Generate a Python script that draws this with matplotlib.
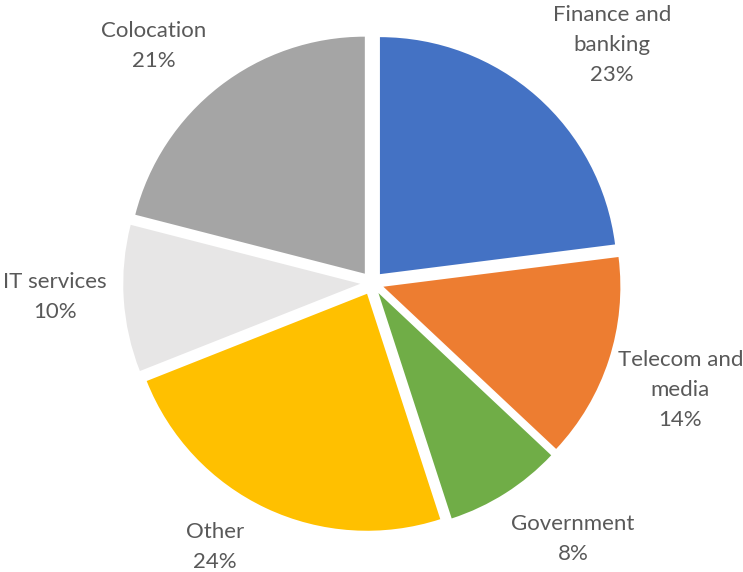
import numpy as np
import matplotlib.pyplot as plt

# 업종별 비중 (%)
sectors = ['Finance and\nbanking', 'Telecom and\nmedia', 'Government', 'Other', 'IT services', 'Colocation']
shares = [23, 14, 8, 24, 10, 21]
colors = ['#4472C4', '#ED7D31', '#70AD47', '#FFC000', '#E7E6E6', '#A5A5A5']

plt.rcParams['font.family'] = ['Lato', 'DejaVu Sans']

fig = plt.figure(figsize=(7.43, 5.72), dpi=100)
ax = fig.add_axes([0, 0, 1, 1])

wedges, _ = ax.pie(shares, colors=colors, startangle=90, counterclock=False,
                   explode=[0.05] * len(shares), radius=1.0)

# 라벨 위치: 조각 중앙 각도 기준 (거리, 각도 보정)
label_r = [1.426, 1.376, 1.373, 1.296, 1.339, 1.361]
label_da = [-3.8, -1.1, 5.7, -5.5, -1.1, 4.9]
for w, name, val, r, da in zip(wedges, sectors, shares, label_r, label_da):
    ang = np.deg2rad((w.theta1 + w.theta2) / 2 + da)
    ax.text(r * np.cos(ang), r * np.sin(ang), f'{name}\n{val}%',
            ha='center', va='center', fontsize=16, color='#595959', linespacing=1.62)

ax.set_xlim(-1.570, 1.565)
ax.set_ylim(-1.219, 1.194)
ax.set_aspect('equal')
ax.axis('off')

fig.savefig('out.png', dpi=100)
